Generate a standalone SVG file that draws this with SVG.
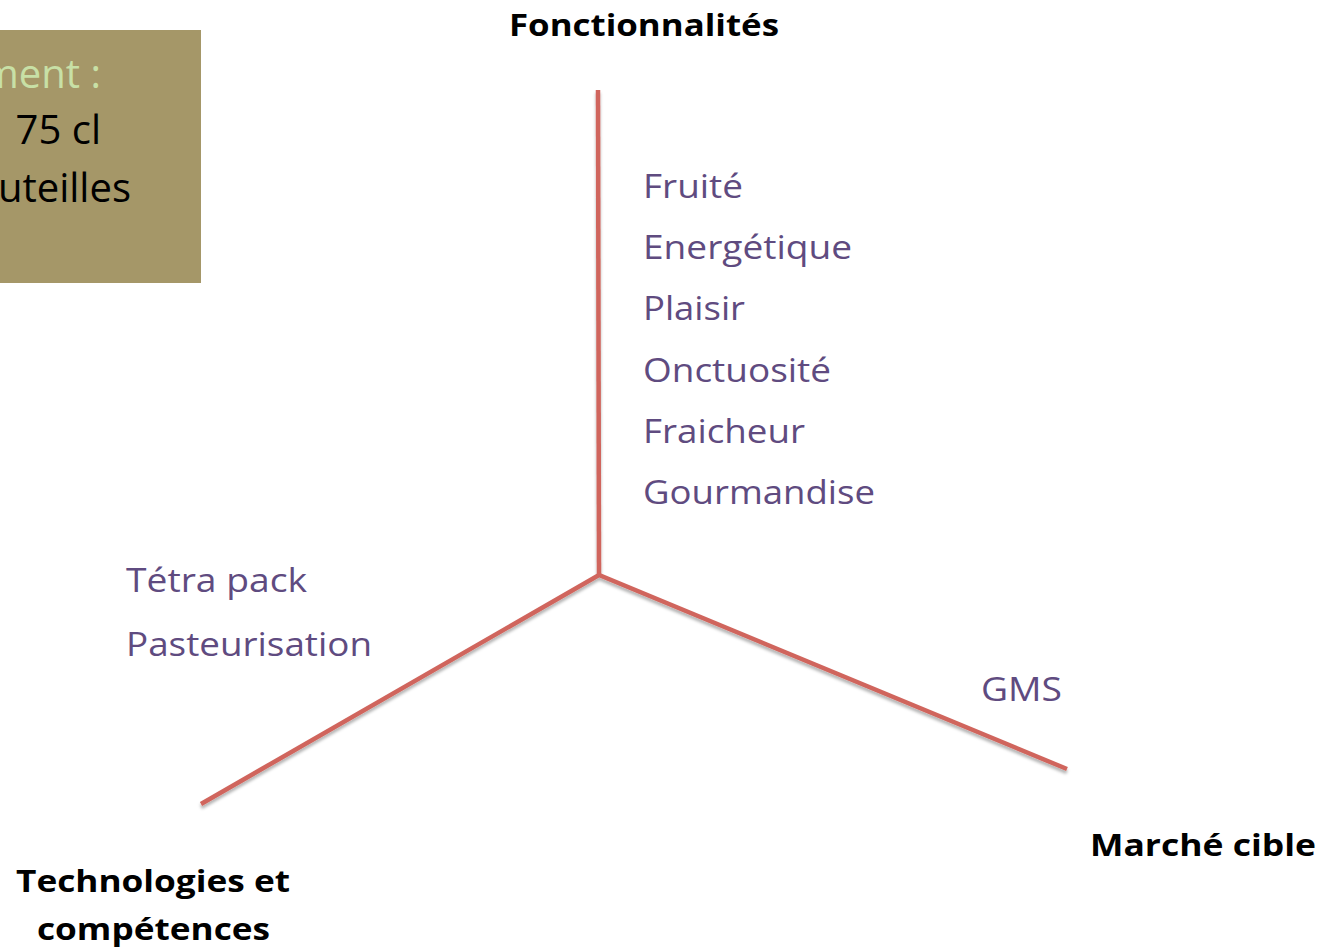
<svg xmlns="http://www.w3.org/2000/svg" width="1325" height="951" viewBox="0 0 1325 951">
<style>
.item{font-family:"Open Sans","Liberation Sans",sans-serif;font-size:32px;fill:#5F4B80}
.axis{font-family:"Open Sans","Liberation Sans",sans-serif;font-size:31px;font-weight:bold;fill:#000}
.box{font-family:"Open Sans","Liberation Sans",sans-serif;font-size:40px}
.ln{stroke:#D0655D;stroke-width:4.5;fill:none;stroke-linecap:butt;stroke-linejoin:miter}
</style>
<defs>
<filter id="sh" x="-10%" y="-10%" width="120%" height="130%">
<feDropShadow dx="0" dy="3" stdDeviation="1.5" flood-color="#000" flood-opacity="0.3"/>
</filter>
<clipPath id="bc"><rect x="0" y="30" width="201" height="253"/></clipPath>
</defs>
<rect width="1325" height="951" fill="#fff"/>
<g id="note">
<rect x="0" y="30" width="201" height="253" fill="#A59768"/>
<g clip-path="url(#bc)">
<text class="box" x="101" y="88" text-anchor="end" fill="#C8E0A6">ment :</text>
<text class="box" x="101" y="144" text-anchor="end" fill="#000">75 cl</text>
<text class="box" x="131" y="202" text-anchor="end" fill="#000">uteilles</text>
</g>
</g>
<g id="connectors" filter="url(#sh)">
<polyline class="ln" points="598,90 599,575"/>
<polyline class="ln" points="201,804 599,575 1067,769"/>
</g>
<g id="fonctionnalites">
<text class="axis" x="509" y="36" textLength="270" lengthAdjust="spacingAndGlyphs">Fonctionnalités</text>
<text class="item" x="643" y="198" textLength="100" lengthAdjust="spacingAndGlyphs">Fruité</text>
<text class="item" x="643" y="259" textLength="209" lengthAdjust="spacingAndGlyphs">Energétique</text>
<text class="item" x="643" y="320" textLength="102" lengthAdjust="spacingAndGlyphs">Plaisir</text>
<text class="item" x="643" y="382" textLength="188" lengthAdjust="spacingAndGlyphs">Onctuosité</text>
<text class="item" x="643" y="443" textLength="162" lengthAdjust="spacingAndGlyphs">Fraicheur</text>
<text class="item" x="643" y="504" textLength="232" lengthAdjust="spacingAndGlyphs">Gourmandise</text>
</g>
<g id="technologies">
<text class="item" x="126" y="592" textLength="181" lengthAdjust="spacingAndGlyphs">Tétra pack</text>
<text class="item" x="126" y="656" textLength="246" lengthAdjust="spacingAndGlyphs">Pasteurisation</text>
<text class="axis" x="16" y="892" textLength="274" lengthAdjust="spacingAndGlyphs">Technologies et</text>
<text class="axis" x="37" y="940" textLength="233" lengthAdjust="spacingAndGlyphs">compétences</text>
</g>
<g id="marche">
<text class="item" x="981" y="701" textLength="81" lengthAdjust="spacingAndGlyphs">GMS</text>
<text class="axis" x="1090" y="856" textLength="226" lengthAdjust="spacingAndGlyphs">Marché cible</text>
</g>
</svg>
